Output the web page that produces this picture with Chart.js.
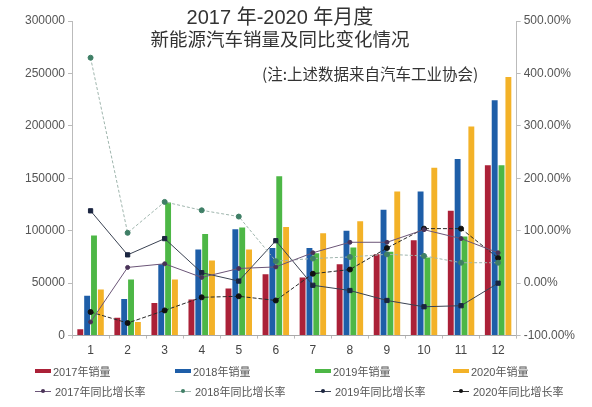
<!DOCTYPE html>
<html>
<head>
<meta charset="utf-8">
<script src="https://cdn.jsdelivr.net/npm/chart.js@4.4.1/dist/chart.umd.min.js"></script>
<style>
    body { margin: 0; background: #fff; }
    #wrap { position: relative; width: 592px; height: 407px; font-family: "Liberation Sans", "Noto Sans CJK SC", sans-serif; }
    #salesChart { position: absolute; left: 0; top: 0; }
    .title { position: absolute; left: 0; width: 560px; text-align: center; color: #333; font-family: "Liberation Sans", "Noto Sans CJK SC", sans-serif; }
    #t1 { top: 1px; font-size: 20px; }
    #t2 { top: 25px; font-size: 18.5px; }
    #note { position: absolute; left: 262px; top: 62px; font-size: 15.5px; color: #333; font-family: "Noto Sans CJK SC", sans-serif; }
    .lg { position: absolute; display: flex; align-items: center; font-size: 11px; color: #555; white-space: nowrap; }
    .sw { display: inline-block; width: 16px; height: 4px; margin-right: 2px; }
    .ln { position: relative; display: inline-block; width: 16px; height: 1px; margin-right: 4px; }
    .ln i { position: absolute; left: 6px; top: -2px; width: 4px; height: 4px; border-radius: 50%; }
</style>
</head>
<body>
<div id="wrap">
    <canvas id="salesChart" width="592" height="407"></canvas>
    <div class="title" id="t1">2017 年-2020 年月度</div>
    <div class="title" id="t2">新能源汽车销量及同比变化情况</div>
    <div id="note">(注:上述数据来自汽车工业协会)</div>
    <div id="legend"></div>
</div>
<script>
// months
const months = ['1', '2', '3', '4', '5', '6', '7', '8', '9', '10', '11', '12'];

// monthly sales (vehicles)
const sales2017 = [6000, 17000, 31000, 34500, 45000, 58500, 55500, 68000, 77500, 91000, 119000, 162500];
const sales2018 = [38000, 35000, 68000, 82000, 101500, 83500, 83500, 100000, 120000, 137500, 168500, 224500];
const sales2019 = [95500, 53500, 127000, 97000, 103000, 152000, 78500, 84000, 80000, 74500, 94500, 162500];
const sales2020 = [44000, 13000, 53500, 71500, 82000, 103500, 97700, 109000, 137500, 160000, 199500, 246500];

// year-on-year growth (%)
const growth2017 = [-74, 30, 37, 11, 28, 31, 58, 78, 78, 102, 85, 58];
const growth2018 = [430, 96, 155, 139, 127, 42, 47, 50, 55, 52, 39, 39];
const growth2019 = [138, 54, 85, 20, 4, 81, -4, -14, -33, -45, -43, 0];
const growth2020 = [-55, -76, -52, -27, -25, -33, 18, 26, 67, 104, 104, 48];

const salesTicks = [0, 50000, 100000, 150000, 200000, 250000, 300000];
const growthTicks = [-100, 0, 100, 200, 300, 400, 500];

const barColors = ['#ab2138', '#1e5ea8', '#4db746', '#f3b228'];

function barSet(label, data, color) {
    return {
        type: 'bar',
        label: label,
        data: data,
        backgroundColor: color,
        yAxisID: 'y',
        order: 2,
        categoryPercentage: 0.74,
        barPercentage: 0.86
    };
}

function lineSet(label, data, color, pointColor, opts) {
    return Object.assign({
        type: 'line',
        label: label,
        data: data,
        borderColor: color,
        backgroundColor: pointColor,
        pointBackgroundColor: pointColor,
        pointBorderColor: pointColor,
        borderWidth: 1,
        pointRadius: 2,
        tension: 0,
        fill: false,
        yAxisID: 'y1',
        order: 1
    }, opts || {});
}

const ctx = document.getElementById('salesChart').getContext('2d');

const chart = new Chart(ctx, {
    data: {
        labels: months,
        datasets: [
            barSet('2017年销量', sales2017, barColors[0]),
            barSet('2018年销量', sales2018, barColors[1]),
            barSet('2019年销量', sales2019, barColors[2]),
            barSet('2020年销量', sales2020, barColors[3]),
            lineSet('2017年同比增长率', growth2017, '#6b5577', '#4a3358'),
            lineSet('2018年同比增长率', growth2018, '#9fb5ad', '#3f7f66', { borderDash: [3, 2], pointRadius: 2.5 }),
            lineSet('2019年同比增长率', growth2019, '#3a4252', '#1b2540', { pointStyle: 'rect', pointRadius: 3 }),
            lineSet('2020年同比增长率', growth2020, '#2a2a2a', '#111', { borderDash: [4, 2], pointRadius: 2.5 })
        ]
    },
    options: {
        responsive: false,
        animation: false,
        layout: {
            padding: { left: 22, right: 14, top: 21, bottom: 44 }
        },
        plugins: {
            legend: { display: false },
            tooltip: { enabled: false }
        },
        scales: {
            x: {
                grid: { drawOnChartArea: false, tickLength: 3, color: '#bbb' },
                border: { color: '#aaa' },
                ticks: { color: '#444', font: { size: 12, family: 'Liberation Sans' }, padding: 5 }
            },
            y: {
                position: 'left',
                min: 0,
                max: 300000,
                afterBuildTicks: function (axis) {
                    axis.ticks = salesTicks.map(v => ({ value: v }));
                },
                grid: { drawOnChartArea: false, tickLength: 4, color: '#bbb' },
                border: { color: '#bbb' },
                ticks: {
                    color: '#555',
                    padding: 3,
                    font: { size: 12, family: 'Liberation Sans' },
                    callback: v => String(v)
                }
            },
            y1: {
                position: 'right',
                min: -100,
                max: 500,
                afterBuildTicks: function (axis) {
                    axis.ticks = growthTicks.map(v => ({ value: v }));
                },
                grid: { drawOnChartArea: false, tickLength: 4, color: '#bbb' },
                border: { color: '#bbb' },
                ticks: {
                    color: '#555',
                    padding: 3,
                    font: { size: 12, family: 'Liberation Sans' },
                    callback: v => v.toFixed(2) + '%'
                }
            }
        }
    }
});

// legend in four columns, two rows
const legendCols = [35, 175, 315, 453];
const legendRows = [363, 383];
const legend = document.getElementById('legend');
chart.data.datasets.forEach(function (ds, i) {
    const item = document.createElement('div');
    item.className = 'lg';
    item.style.left = legendCols[i % 4] + 'px';
    item.style.top = legendRows[Math.floor(i / 4)] + 'px';
    if (ds.type === 'bar') {
        item.innerHTML = '<span class="sw" style="background:' + ds.backgroundColor + '"></span>';
    } else {
        item.innerHTML = '<span class="ln" style="background:' + ds.borderColor + '"><i style="background:' + ds.pointBackgroundColor + '"></i></span>';
    }
    const txt = document.createElement('span');
    txt.textContent = ds.label;
    item.appendChild(txt);
    legend.appendChild(item);
});
</script>
</body>
</html>
